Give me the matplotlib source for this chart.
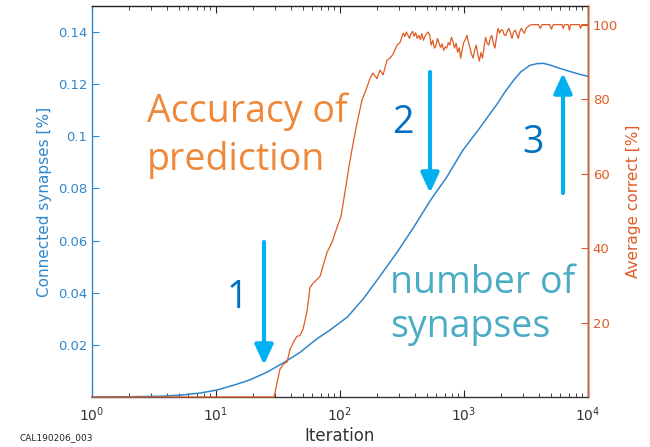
import numpy as np
import matplotlib
matplotlib.use("Agg")
import matplotlib.pyplot as plt
from matplotlib.ticker import LogLocator, NullFormatter, FixedLocator

# connected synapses [%] vs log10(iteration)
syn_logx = [0.0, 0.31, 0.57, 0.73, 0.87, 1.01, 1.14, 1.27, 1.41, 1.54, 1.68, 1.81,
            1.92, 2.06, 2.19, 2.32, 2.46, 2.59, 2.73, 2.86, 2.99, 3.13, 3.27,
            3.33, 3.40, 3.46, 3.53, 3.59, 3.64, 3.69, 3.77, 3.91, 4.0]
syn_val = [0.0, 0.0001, 0.0003, 0.0008, 0.0015, 0.0027, 0.0045, 0.0065, 0.0095,
           0.013, 0.0172, 0.0222, 0.0257, 0.0307, 0.0378, 0.0462, 0.0555, 0.0648,
           0.0755, 0.0843, 0.0946, 0.1034, 0.1126, 0.117, 0.1215, 0.1248, 0.1272,
           0.1279, 0.128, 0.1274, 0.1261, 0.1241, 0.123]

# average correct [%]: rise from zero up to the plateau
acc_rise_logx = [0.0, 1.468, 1.516, 1.548, 1.573, 1.597, 1.629, 1.653, 1.677, 1.702,
                 1.734, 1.758, 1.782, 1.815, 1.839, 1.871, 1.895, 1.935, 1.960, 1.984,
                 2.008, 2.040, 2.073, 2.105, 2.137, 2.177, 2.218, 2.242, 2.266,
                 2.298, 2.323, 2.347, 2.379, 2.403, 2.427, 2.460, 2.484]
acc_rise_val = [0.0, 0.0, 7.5, 9.0, 9.4, 12.8, 15.0, 16.3, 16.5, 18.2,
                23.0, 29.4, 30.5, 31.6, 32.4, 36.0, 38.8, 41.5, 44.0, 46.3,
                48.5, 55.0, 62.0, 68.0, 73.5, 79.7, 83.2, 85.6, 87.0,
                85.5, 87.8, 86.5, 90.4, 91.0, 92.0, 94.5, 95.2]

# noisy plateau, log10(iteration) 2.51 .. 3.50
acc_plateau_val = [97.7, 96.8, 98.0, 97.2, 96.3, 97.5, 98.2, 96.9, 97.8, 96.3,
                   97.1, 96.0, 97.6, 95.8, 96.9, 97.5, 98.0, 97.2,
                   94.5, 95.8, 93.7, 94.2, 96.3, 95.0, 93.9, 94.8, 93.1, 94.0,
                   93.7, 95.2, 94.5, 96.6, 95.5, 93.7, 95.0, 92.6, 93.8,
                   91.0, 93.5, 95.3, 96.0, 97.1, 95.2, 93.7, 92.0, 91.0, 93.2,
                   94.5, 92.0, 90.2, 92.5, 91.0, 94.0, 96.6, 95.0, 94.5, 96.2,
                   97.1, 95.0, 93.7, 96.5, 99.0, 97.7, 98.6, 98.5, 97.2, 97.1,
                   98.3, 99.0, 97.8, 96.3, 98.0, 98.5, 97.5, 96.3, 98.1, 99.0,
                   98.2, 97.7, 99.0]

# saturated tail with occasional dips
acc_top_logx = [3.53, 3.55, 3.57, 3.60, 3.615, 3.63, 3.66, 3.69, 3.705, 3.72,
                3.75, 3.79, 3.80, 3.81, 3.84, 3.85, 3.86, 3.90, 3.93, 3.94,
                3.95, 3.98, 4.0]
acc_top_val = [99.8, 100.0, 100.0, 100.0, 99.0, 100.0, 100.0, 100.0, 98.8, 100.0,
               100.0, 100.0, 99.0, 100.0, 100.0, 98.5, 100.0, 100.0, 100.0, 99.0,
               100.0, 100.0, 100.0]

acc_logx = np.concatenate([acc_rise_logx,
                           np.linspace(2.51, 3.50, len(acc_plateau_val)),
                           acc_top_logx])
acc_val = np.concatenate([acc_rise_val, acc_plateau_val, acc_top_val])

blue = "#2f86cc"
orange = "#df5b24"

W, H = 650, 447
fig = plt.figure(figsize=(W / 100, H / 100), dpi=100)
ax = fig.add_axes([92 / W, 1 - 397 / H, (588 - 92) / W, (397 - 6) / H])
ax2 = ax.twinx()

ax.plot(10 ** np.array(syn_logx), syn_val, color=blue, lw=1.1, clip_on=False, zorder=3)
ax2.plot(10 ** acc_logx, acc_val, color=orange, lw=0.9, clip_on=False, zorder=3)

ax.set_xscale("log")
ax.set_xlim(1, 1e4)
ax.set_ylim(0, 0.15)
ax2.set_ylim(0, 105)

ax.yaxis.set_major_locator(FixedLocator([0.02, 0.04, 0.06, 0.08, 0.1, 0.12, 0.14]))
ax.set_yticklabels(["0.02", "0.04", "0.06", "0.08", "0.1", "0.12", "0.14"])
ax2.yaxis.set_major_locator(FixedLocator([20, 40, 60, 80, 100]))
ax.xaxis.set_major_locator(LogLocator(base=10, numticks=10))
ax.xaxis.set_minor_locator(LogLocator(base=10, subs=np.arange(2, 10), numticks=20))
ax.xaxis.set_minor_formatter(NullFormatter())

ax.tick_params(axis="x", which="both", direction="in", top=True, bottom=True,
               colors="#262626", labelsize=10, pad=6)
ax.tick_params(axis="x", which="major", length=5)
ax.tick_params(axis="x", which="minor", length=3)
ax.tick_params(axis="y", direction="in", length=5, colors=blue, labelsize=9.5)
ax2.tick_params(axis="y", direction="in", length=5, colors=orange, labelsize=9.5)
for t in ax.get_xticklabels():
    t.set_color("#333333")

ax.spines["left"].set_color(blue)
ax.spines["top"].set_color("#222222")
ax.spines["bottom"].set_color("#333333")
ax2.spines["right"].set_color(orange)
ax2.spines["left"].set_visible(False)
ax2.spines["top"].set_visible(False)
ax2.spines["bottom"].set_visible(False)
for s in list(ax.spines.values()) + list(ax2.spines.values()):
    s.set_linewidth(1.0)

ax.set_xlabel("Iteration", fontsize=12, color="#333333", labelpad=2)
ax.set_ylabel("Connected synapses [%]", fontsize=11, color=blue, labelpad=4)
ax2.set_ylabel("Average correct [%]", fontsize=11, color=orange, labelpad=6)


def fx(px):
    return px / W


def fy(py):
    return 1 - py / H


# curve labels
big = dict(family="Open Sans", fontsize=27, va="baseline", ha="left")
fig.text(fx(147), fy(122), "Accuracy of", color="#f0883a", **big)
fig.text(fx(147), fy(170), "prediction", color="#f0883a", **big)
fig.text(fx(390), fy(293), "number of", color="#4bacc6", **big)
fig.text(fx(390), fy(337), "synapses", color="#4bacc6", **big)

num = dict(family="Open Sans", fontsize=27, va="center", ha="center", color="#0070c0")
fig.text(fx(237), fy(298), "1", **num)
fig.text(fx(403), fy(123), "2", **num)
fig.text(fx(533), fy(143), "3", **num)

# arrows
arrow = dict(arrowstyle="-|>,head_width=0.55,head_length=1.2", lw=3, color="#00b0f0",
             shrinkA=0, shrinkB=0)
for x, y0, y1 in [(264, 242, 365), (430, 72, 193), (563, 193, 73)]:
    ax.annotate("", xy=(fx(x), fy(y1)), xytext=(fx(x), fy(y0)),
                xycoords="figure fraction", textcoords="figure fraction",
                arrowprops=arrow, annotation_clip=False)

fig.text(fx(20), fy(438), "CAL190206_003", fontsize=6.5, color="#222222", va="center")

fig.savefig("out.png", dpi=100)
